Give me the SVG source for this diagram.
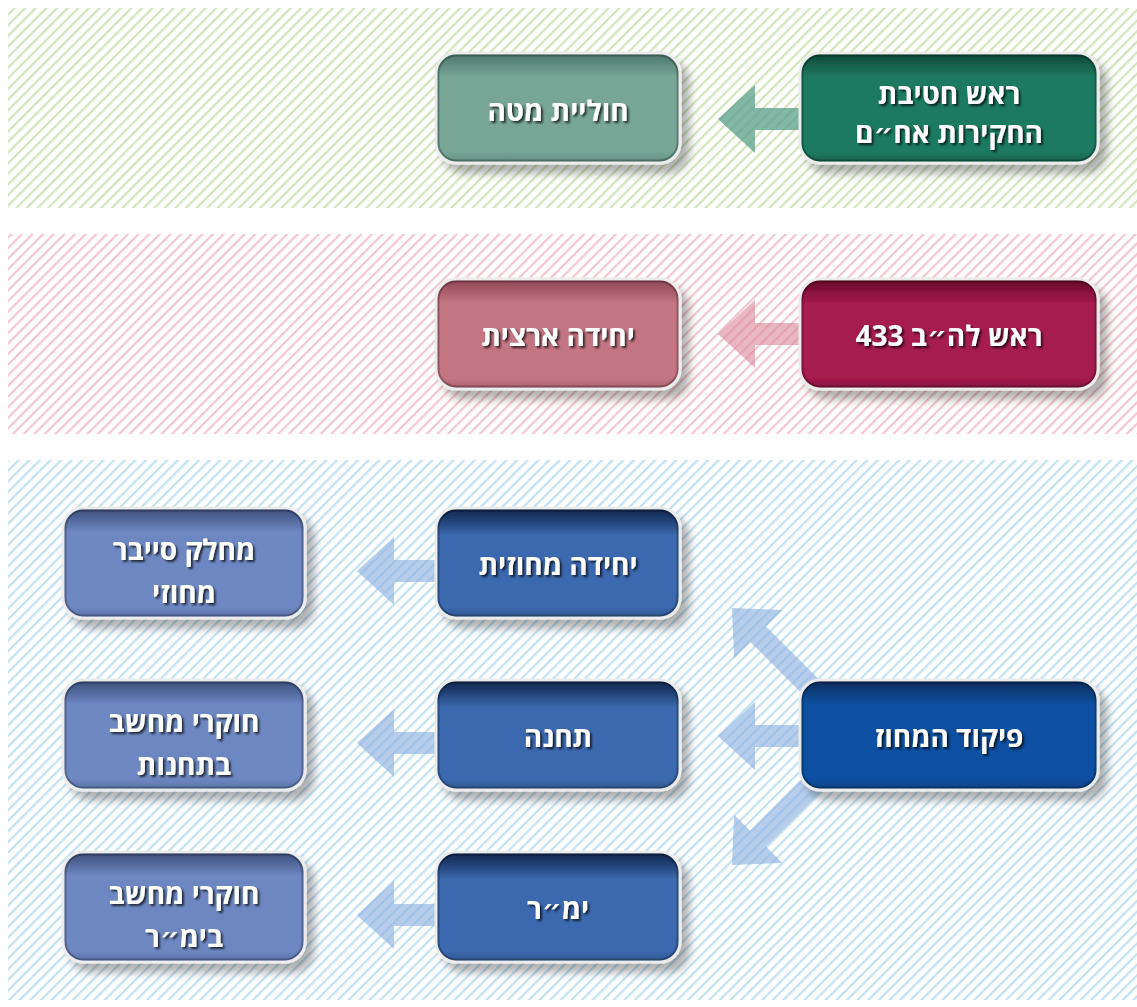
<svg xmlns="http://www.w3.org/2000/svg" width="1137" height="1007" viewBox="0 0 1137 1007">
<defs>
<pattern id="hg" width="7.5" height="7.5" patternUnits="userSpaceOnUse" patternTransform="rotate(45)"><rect width="7.5" height="7.5" fill="#ffffff"/><rect width="2.2" height="7.5" fill="#d2e5bd"/></pattern>
<pattern id="hp" width="7.5" height="7.5" patternUnits="userSpaceOnUse" patternTransform="rotate(45)"><rect width="7.5" height="7.5" fill="#ffffff"/><rect width="2.2" height="7.5" fill="#f3c7d0"/></pattern>
<pattern id="hb" width="7.5" height="7.5" patternUnits="userSpaceOnUse" patternTransform="rotate(45)"><rect width="7.5" height="7.5" fill="#ffffff"/><rect width="2.2" height="7.5" fill="#c3e1f1"/></pattern>
<linearGradient id="gG" x1="0" y1="0" x2="0" y2="1"><stop offset="0" stop-color="#0c4536"/><stop offset="0.22" stop-color="#1f7a60"/><stop offset="0.9" stop-color="#1f7a60"/><stop offset="1" stop-color="#175e4a"/></linearGradient>
<linearGradient id="gGl" x1="0" y1="0" x2="0" y2="1"><stop offset="0" stop-color="#4a7669"/><stop offset="0.22" stop-color="#77a596"/><stop offset="0.9" stop-color="#77a596"/><stop offset="1" stop-color="#628d80"/></linearGradient>
<linearGradient id="gP" x1="0" y1="0" x2="0" y2="1"><stop offset="0" stop-color="#640826"/><stop offset="0.22" stop-color="#a51a4d"/><stop offset="0.9" stop-color="#a51a4d"/><stop offset="1" stop-color="#86133d"/></linearGradient>
<linearGradient id="gPl" x1="0" y1="0" x2="0" y2="1"><stop offset="0" stop-color="#8c4553"/><stop offset="0.22" stop-color="#c47583"/><stop offset="0.9" stop-color="#c47583"/><stop offset="1" stop-color="#a9606d"/></linearGradient>
<linearGradient id="gB" x1="0" y1="0" x2="0" y2="1"><stop offset="0" stop-color="#062a57"/><stop offset="0.22" stop-color="#0d50a0"/><stop offset="0.9" stop-color="#0d50a0"/><stop offset="1" stop-color="#0a4283"/></linearGradient>
<linearGradient id="gBm" x1="0" y1="0" x2="0" y2="1"><stop offset="0" stop-color="#0c2246"/><stop offset="0.25" stop-color="#3b68ae"/><stop offset="0.9" stop-color="#3b68ae"/><stop offset="1" stop-color="#30588f"/></linearGradient>
<linearGradient id="gBl" x1="0" y1="0" x2="0" y2="1"><stop offset="0" stop-color="#3a4b78"/><stop offset="0.22" stop-color="#6d88c1"/><stop offset="0.9" stop-color="#6d88c1"/><stop offset="1" stop-color="#5b73a6"/></linearGradient>
<filter id="sh" x="-10%" y="-10%" width="130%" height="140%"><feDropShadow dx="8" dy="9" stdDeviation="4" flood-color="#000" flood-opacity="0.3"/></filter>
<filter id="ts" x="-10%" y="-20%" width="125%" height="150%"><feDropShadow dx="2" dy="2" stdDeviation="1.2" flood-color="#000" flood-opacity="0.7"/></filter>
<style>
.box{stroke:#ececec;stroke-width:3;filter:url(#sh)}
.inner{fill:none;stroke:#000;stroke-opacity:0.25;stroke-width:2}
.t{font-family:"Open Sans","DejaVu Sans",sans-serif;font-weight:700;font-size:28px;fill:#ffffff;text-anchor:middle;filter:url(#ts)}
.ag{fill:#5a9f8b;fill-opacity:0.75}
.ap{fill:#d8879a;fill-opacity:0.6}
.ab{fill:#8fb2e2;fill-opacity:0.65}
</style>
</defs>
<rect width="1137" height="1007" fill="#ffffff"/>
<g id="bands">
<rect x="8" y="8" width="1129" height="200" fill="url(#hg)"/>
<rect x="8" y="234" width="1129" height="200" fill="url(#hp)"/>
<rect x="8" y="460" width="1129" height="540" fill="url(#hb)"/>
</g>
<g id="connectors">
<polygon class="ag" points="718,119 755,85 755,108 805,108 805,130 755,130 755,153"/>
<polygon class="ap" points="718,334 755,300 755,323 805,323 805,345 755,345 755,368"/>
<polygon class="ab" points="357,571 394,537 394,560 440,560 440,582 394,582 394,605"/>
<polygon class="ab" points="357,743 394,709 394,732 440,732 440,754 394,754 394,777"/>
<polygon class="ab" points="357,915 394,881 394,904 440,904 440,926 394,926 394,949"/>
<polygon class="ab" points="718,736 755,702 755,725 805,725 805,747 755,747 755,770"/>
<polygon class="ab" transform="translate(732,608) rotate(45)" points="0,0 37,-34 37,-11 120,-11 120,11 37,11 37,34"/>
<polygon class="ab" transform="translate(732,865) rotate(-45)" points="0,0 37,-34 37,-11 120,-11 120,11 37,11 37,34"/>
</g>
<g id="n-head-investigations">
<rect class="box" x="800" y="53" width="298" height="110" rx="20" fill="url(#gG)"/>
<rect class="inner" x="802.5" y="55.5" width="293" height="105" rx="18"/>
<text class="t" x="949" y="104" direction="rtl">ראש חטיבת</text>
<text class="t" x="949" y="143" direction="rtl">החקירות אח״ם</text>
</g>
<g id="n-staff-cell">
<rect class="box" x="436" y="53" width="244" height="110" rx="20" fill="url(#gGl)"/>
<rect class="inner" x="438.5" y="55.5" width="239" height="105" rx="18"/>
<text class="t" x="558" y="121" direction="rtl">חוליית מטה</text>
</g>
<g id="n-head-433">
<rect class="box" x="800" y="279" width="298" height="110" rx="20" fill="url(#gP)"/>
<rect class="inner" x="802.5" y="281.5" width="293" height="105" rx="18"/>
<text class="t" x="949" y="346" direction="rtl">ראש לה״ב 433</text>
</g>
<g id="n-national-unit">
<rect class="box" x="436" y="279" width="244" height="110" rx="20" fill="url(#gPl)"/>
<rect class="inner" x="438.5" y="281.5" width="239" height="105" rx="18"/>
<text class="t" x="558" y="346" direction="rtl">יחידה ארצית</text>
</g>
<g id="n-district-command">
<rect class="box" x="800" y="680" width="298" height="110" rx="20" fill="url(#gB)"/>
<rect class="inner" x="802.5" y="682.5" width="293" height="105" rx="18"/>
<text class="t" x="949" y="747" direction="rtl">פיקוד המחוז</text>
</g>
<g id="n-district-unit">
<rect class="box" x="436" y="508" width="244" height="110" rx="20" fill="url(#gBm)"/>
<rect class="inner" x="438.5" y="510.5" width="239" height="105" rx="18"/>
<text class="t" x="558" y="575" direction="rtl">יחידה מחוזית</text>
</g>
<g id="n-station">
<rect class="box" x="436" y="680" width="244" height="110" rx="20" fill="url(#gBm)"/>
<rect class="inner" x="438.5" y="682.5" width="239" height="105" rx="18"/>
<text class="t" x="558" y="747" direction="rtl">תחנה</text>
</g>
<g id="n-yamar">
<rect class="box" x="436" y="852" width="244" height="110" rx="20" fill="url(#gBm)"/>
<rect class="inner" x="438.5" y="854.5" width="239" height="105" rx="18"/>
<text class="t" x="558" y="919" direction="rtl">ימ״ר</text>
</g>
<g id="n-district-cyber">
<rect class="box" x="63" y="508" width="242" height="110" rx="20" fill="url(#gBl)"/>
<rect class="inner" x="65.5" y="510.5" width="237" height="105" rx="18"/>
<text class="t" x="184" y="560" direction="rtl">מחלק סייבר</text>
<text class="t" x="184" y="603" direction="rtl">מחוזי</text>
</g>
<g id="n-station-investigators">
<rect class="box" x="63" y="680" width="242" height="110" rx="20" fill="url(#gBl)"/>
<rect class="inner" x="65.5" y="682.5" width="237" height="105" rx="18"/>
<text class="t" x="184" y="732" direction="rtl">חוקרי מחשב</text>
<text class="t" x="184" y="775" direction="rtl">בתחנות</text>
</g>
<g id="n-yamar-investigators">
<rect class="box" x="63" y="852" width="242" height="110" rx="20" fill="url(#gBl)"/>
<rect class="inner" x="65.5" y="854.5" width="237" height="105" rx="18"/>
<text class="t" x="184" y="904" direction="rtl">חוקרי מחשב</text>
<text class="t" x="184" y="947" direction="rtl">בימ״ר</text>
</g>
</svg>
